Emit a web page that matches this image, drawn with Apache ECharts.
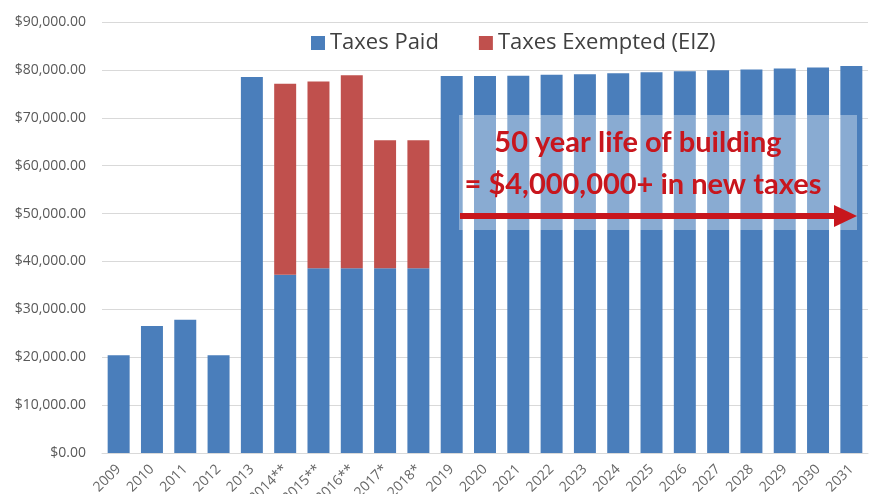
<!DOCTYPE html>
<html>
<head>
<meta charset="utf-8">
<script src="https://cdn.jsdelivr.net/npm/echarts@6/dist/echarts.min.js"></script>
<style>
html, body { margin: 0; padding: 0; background: #fff; }
#main { width: 873px; height: 494px; }
</style>
</head>
<body>
<div id="main"></div>
<script>
var years = ['2009', '2010', '2011', '2012', '2013', '2014**', '2015**', '2016**', '2017*', '2018*',
    '2019', '2020', '2021', '2022', '2023', '2024', '2025', '2026', '2027', '2028', '2029', '2030', '2031'];
var taxesPaid = [20400, 26500, 27800, 20400, 78500, 37200, 38600, 38600, 38600, 38600,
    78700, 78700, 78800, 79000, 79100, 79300, 79500, 79700, 79900, 80100, 80300, 80500, 80800];
var taxesExempted = [0, 0, 0, 0, 0, 39900, 39000, 40300, 26700, 26700,
    0, 0, 0, 0, 0, 0, 0, 0, 0, 0, 0, 0, 0];
var yTicks = [0, 10000, 20000, 30000, 40000, 50000, 60000, 70000, 80000, 90000];

var myChart = echarts.init(document.getElementById('main'));

function money(v) {
    return '$' + v.toLocaleString('en-US', { minimumFractionDigits: 2, maximumFractionDigits: 2 });
}

var option = {
    animation: false,
    legend: {
        data: ['Taxes Paid', 'Taxes Exempted (EIZ)'],
        top: 27,
        left: 306,
        itemWidth: 14,
        itemHeight: 14,
        itemGap: 40,
        icon: 'rect',
        textStyle: { fontFamily: 'Open Sans', fontSize: 22, color: '#404040' }
    },
    grid: { left: 102, right: 5, top: 22, bottom: 41, containLabel: false, outerBoundsMode: 'none' },
    xAxis: {
        type: 'category',
        data: years,
        axisTick: { show: false },
        axisLine: { lineStyle: { color: '#d9d9d9' } },
        axisLabel: {
            rotate: 45,
            interval: 0,
            margin: 14,
            fontFamily: 'Open Sans',
            fontSize: 14,
            color: '#666666'
        }
    },
    yAxis: {
        type: 'value',
        min: yTicks[0],
        max: yTicks[yTicks.length - 1],
        interval: 10000,
        axisLine: { show: false },
        axisTick: { show: false },
        splitLine: { lineStyle: { color: '#d9d9d9' } },
        axisLabel: {
            formatter: money,
            margin: 16,
            fontFamily: 'Open Sans',
            fontSize: 14,
            color: '#595959'
        }
    },
    series: [{
        name: 'Taxes Paid',
        type: 'bar',
        stack: 'tax',
        data: taxesPaid,
        barWidth: '66%',
        itemStyle: { color: '#4a7ebb' }
    }, {
        name: 'Taxes Exempted (EIZ)',
        type: 'bar',
        stack: 'tax',
        data: taxesExempted,
        barWidth: '66%',
        itemStyle: { color: '#c0504d' }
    }],
    graphic: [{
        type: 'rect',
        shape: { x: 459, y: 115, width: 398, height: 115 },
        style: { fill: 'rgba(255,255,255,0.35)' },
        z: 100
    }, {
        type: 'text',
        x: 638, y: 143,
        style: {
            text: '50 year life of building',
            fill: '#c8161d',
            font: 'bold 29px Lato',
            align: 'center',
            verticalAlign: 'middle'
        },
        z: 101
    }, {
        type: 'text',
        x: 643, y: 185,
        style: {
            text: '= $4,000,000+ in new taxes',
            fill: '#c8161d',
            font: 'bold 29px Lato',
            align: 'center',
            verticalAlign: 'middle'
        },
        z: 101
    }, {
        type: 'rect',
        shape: { x: 460, y: 213, width: 376, height: 6 },
        style: { fill: '#c8161d' },
        z: 101
    }, {
        type: 'polygon',
        shape: { points: [[834, 205], [857, 216], [834, 227]] },
        style: { fill: '#c8161d' },
        z: 101
    }]
};
myChart.setOption(option);
</script>
</body>
</html>
